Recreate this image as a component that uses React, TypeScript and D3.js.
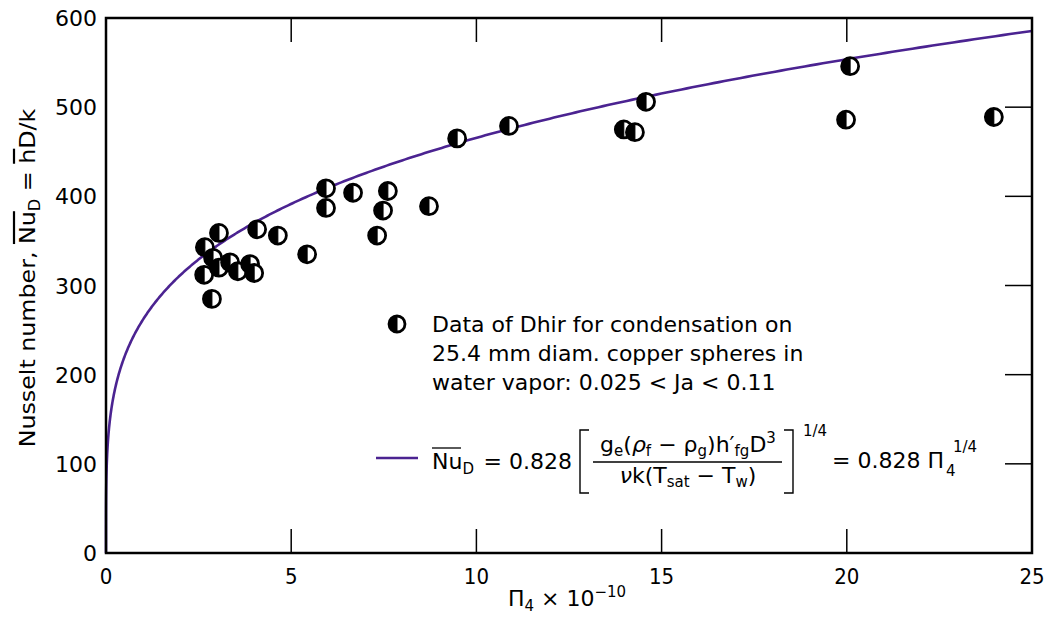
import React from "react";
import * as d3 from "d3";

const xTicks = [0, 5, 10, 15, 20, 25];
const yTicks = [0, 100, 200, 300, 400, 500, 600];
const dataX = [2.67, 2.65, 2.86, 2.89, 3.05, 3.05, 3.35, 3.56, 3.89, 4.0, 4.08, 4.64, 5.43, 5.94, 5.94, 6.67, 7.32, 7.48, 7.61, 8.72, 9.48, 10.88, 13.98, 14.28, 14.58, 19.98, 20.09, 23.97];
const dataY = [343, 312, 285, 331, 320, 359, 326, 316, 324, 314, 363, 356, 335, 409, 387, 404, 356, 384, 406, 389, 465, 479, 475, 472, 506, 486, 546, 489];
const coef = 0.828;
const exponent = 0.25;
const legendText = ["Data of Dhir for condensation on", "25.4 mm diam. copper spheres in", "water vapor: 0.025 < Ja < 0.11"];

const W = 1047, H = 618;
const L = 106, R = 1032, T = 18, B = 553;
const purple = "#4b2391";
const font = "'DejaVu Sans', Verdana, sans-serif";
const FS = 22;
const SS = 15;

function Marker({ cx, cy, r }: { cx: number; cy: number; r: number }) {
  const left = `M${cx},${cy - r} A${r},${r} 0 0,0 ${cx},${cy + r} Z`;
  return (
    <g>
      <circle cx={cx} cy={cy} r={r} fill="#fff" stroke="#000" strokeWidth={2.8} />
      <path d={left} fill="#000" stroke="#000" strokeWidth={1} />
    </g>
  );
}

export default function App() {
  const x = d3.scaleLinear().domain([0, 25]).range([L, R]);
  const y = d3.scaleLinear().domain([0, 600]).range([B, T]);
  const samples = d3.range(0, 1.0001, 0.002).map((t) => 25 * Math.pow(t, 4));
  const line = d3
    .line<number>()
    .x((d) => x(d))
    .y((d) => y(coef * Math.pow(d * 1e10, exponent)));
  const tickLen = 24;
  return (
    <svg width={W} height={H} style={{ position: "absolute", left: 0, top: 0, background: "#fff" }} fontFamily={font}>
      {xTicks.slice(1, -1).map((t) => (
        <g key={"xt" + t}>
          <line x1={x(t)} x2={x(t)} y1={B} y2={B - tickLen} stroke="#000" strokeWidth={1.5} />
          <line x1={x(t)} x2={x(t)} y1={T} y2={T + tickLen} stroke="#000" strokeWidth={1.5} />
        </g>
      ))}
      {yTicks.slice(1, -1).map((t) => (
        <line key={"yt" + t} x1={R} x2={R - 27} y1={y(t)} y2={y(t)} stroke="#000" strokeWidth={1.5} />
      ))}
      <path d={line(samples) || ""} fill="none" stroke={purple} strokeWidth={2.6} />
      <rect x={L} y={T} width={R - L} height={B - T} fill="none" stroke="#000" strokeWidth={2.5} />
      {yTicks.map((t) => (
        <text key={"yl" + t} x={97} y={y(t) + 8} textAnchor="end" fontSize={FS}>
          {t}
        </text>
      ))}
      {xTicks.map((t) => (
        <text key={"xl" + t} x={x(t)} y={584} textAnchor="middle" fontSize={FS} fontFamily="'DejaVu Sans Condensed', 'DejaVu Sans', sans-serif">
          {t}
        </text>
      ))}
      <text x={567} y={606} textAnchor="middle" fontSize={FS}>
        Π<tspan fontSize={SS} dy={5}>4</tspan>
        <tspan dy={-5}> × 10</tspan>
        <tspan fontSize={SS} dy={-9}>−10</tspan>
      </text>
      <g transform="translate(35,278) rotate(-90) scale(1.08,1)">
        <text x={0} y={0} textAnchor="middle" fontSize={FS}>
          Nusselt number, <tspan textDecoration="overline">Nu</tspan>
          <tspan fontSize={SS} dy={5}>D</tspan>
          <tspan dy={-5}> = </tspan>
          <tspan textDecoration="overline">h</tspan>
          <tspan>D/k</tspan>
        </text>
      </g>
      {dataX.map((d, i) => (
        <Marker key={i} cx={x(d)} cy={y(dataY[i])} r={8.5} />
      ))}
      <Marker cx={397} cy={324} r={8} />
      {legendText.map((s, i) => (
        <text key={s} x={432} y={332 + i * 29} fontSize={FS}>
          {s}
        </text>
      ))}
      <line x1={376} x2={418} y1={458} y2={458} stroke={purple} strokeWidth={2.6} />
      <g fontSize={FS}>
        <text x={432} y={469}>
          Nu<tspan fontSize={SS} dy={5}>D</tspan>
        </text>
        <line x1={432} x2={461} y1={448} y2={448} stroke="#000" strokeWidth={1.3} />
        <text x={572} y={469} textAnchor="end">= 0.828</text>
        <path d="M589,430 L580,430 L580,493 L589,493" fill="none" stroke="#000" strokeWidth={1.4} />
        <path d="M784,430 L793,430 L793,493 L784,493" fill="none" stroke="#000" strokeWidth={1.4} />
        <text x={688} y={452} textAnchor="middle">
          g<tspan fontSize={SS} dy={4}>e</tspan>
          <tspan dy={-4}>(</tspan>
          <tspan fontStyle="italic">ρ</tspan>
          <tspan fontSize={SS} dy={4}>f</tspan>
          <tspan dy={-4}> − ρ</tspan>
          <tspan fontSize={SS} dy={4}>g</tspan>
          <tspan dy={-4}>)h′</tspan>
          <tspan fontSize={SS} dy={4}>fg</tspan>
          <tspan dy={-4}>D</tspan>
          <tspan fontSize={SS} dy={-9}>3</tspan>
        </text>
        <line x1={593} x2={782} y1={462} y2={462} stroke="#000" strokeWidth={1.3} />
        <text x={688} y={483} textAnchor="middle">
          <tspan fontStyle="italic">ν</tspan>k(T
          <tspan fontSize={SS} dy={4}>sat</tspan>
          <tspan dy={-4}> − T</tspan>
          <tspan fontSize={SS} dy={4}>w</tspan>
          <tspan dy={-4}>)</tspan>
        </text>
        <text x={803} y={436} fontSize={SS}>1/4</text>
        <text x={944} y={468} textAnchor="end">= 0.828 Π</text>
        <text x={946} y={476} fontSize={SS}>4</text>
        <text x={953} y={452} fontSize={SS}>1/4</text>
      </g>
    </svg>
  );
}
